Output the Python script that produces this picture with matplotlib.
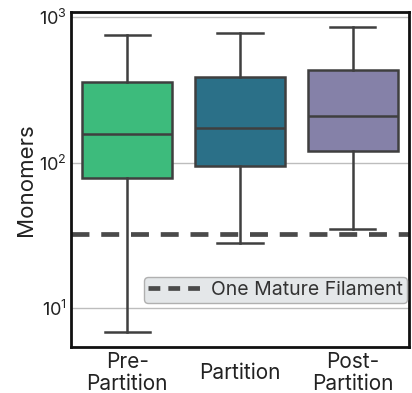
import matplotlib
matplotlib.use("Agg")
import matplotlib.pyplot as plt

categories = ["Pre-\nPartition", "Partition", "Post-\nPartition"]
whisker_low = [6.9, 28.1, 35.1]
q1 = [78.6, 94.5, 120.0]
median = [157.0, 173.0, 209.0]
q3 = [357.0, 386.0, 435.0]
whisker_high = [757.0, 781.0, 851.0]
colors = ["#3dbb7c", "#2b7088", "#8581a8"]
mature_filament = 32.2

plt.rcParams['font.family'] = ['Inter', 'DejaVu Sans']

fig = plt.figure(figsize=(4.12, 3.93), dpi=100)
ax = fig.add_axes([0.1723, 0.1163, 0.8204, 0.8532])

stats = []
for i in range(len(categories)):
    stats.append(dict(med=median[i], q1=q1[i], q3=q3[i],
                      whislo=whisker_low[i], whishi=whisker_high[i],
                      fliers=[], label=categories[i]))

edge = "#3f3f3f"
bp = ax.bxp(stats, positions=range(len(categories)), widths=0.8,
            patch_artist=True, showfliers=False,
            boxprops=dict(edgecolor=edge, linewidth=1.8),
            medianprops=dict(color=edge, linewidth=1.8),
            whiskerprops=dict(color=edge, linewidth=1.8),
            capprops=dict(color=edge, linewidth=1.8), capwidths=0.4)
for patch, c in zip(bp['boxes'], colors):
    patch.set_facecolor(c)

ax.set_yscale('log')
ax.set_ylim(5.4, 1084)
ax.set_xlim(-0.5, 2.5)

ax.axhline(mature_filament, color="#4a4a4a", linewidth=3.4,
           dashes=(3.8, 2.5), label="One Mature Filament", zorder=1)

ax.yaxis.grid(True, which='major', color="#bdbdbd", linewidth=1.0)
ax.set_axisbelow(True)
ax.tick_params(axis='y', which='minor', left=False)
ax.tick_params(axis='y', which='major', length=0, labelsize=13, pad=3, colors="#222222")
ax.tick_params(axis='x', length=0, labelsize=15, pad=18.5, colors="#222222")
ax.set_xticks(range(len(categories)))
ax.set_xticklabels(categories, fontsize=15, linespacing=1.15)
for t in ax.get_xticklabels():
    t.set_verticalalignment('center')
ax.set_ylabel("Monomers", fontsize=16, color="#222222", labelpad=2)

for s in ax.spines.values():
    s.set_linewidth(2.0)
    s.set_color("#111111")

leg = ax.legend(loc='lower right', bbox_to_anchor=(0.994, 0.132), fontsize=14,
                frameon=True, fancybox=True, handlelength=2.67,
                borderpad=0.2, borderaxespad=0.0, handletextpad=0.6)
leg.get_frame().set_facecolor("#e4e7e9")
leg.get_frame().set_edgecolor("#b0b0b0")
leg.get_frame().set_alpha(1.0)
for txt in leg.get_texts():
    txt.set_color("#333333")
leg.get_lines()[0].set_dashes((2.5, 1.7))

fig.savefig("out.png", dpi=100)
